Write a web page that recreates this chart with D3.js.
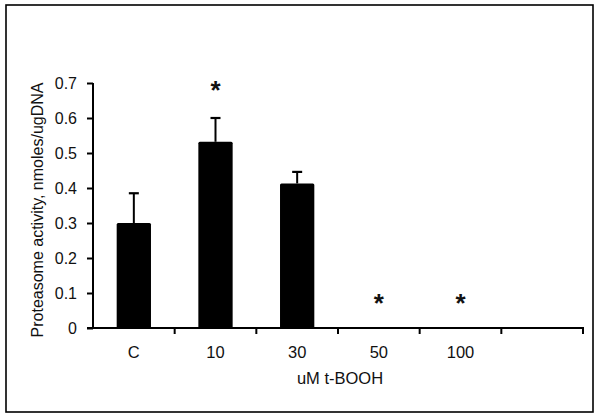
<!DOCTYPE html>
<html>
<head>
<meta charset="utf-8">
<script src="https://cdnjs.cloudflare.com/ajax/libs/d3/7.8.5/d3.min.js"></script>
<style>
  body { margin: 0; background: #fff; }
  svg text { font-family: "Liberation Sans", Arial, sans-serif; fill: #111; }
</style>
</head>
<body>
<svg width="600" height="418"></svg>
<script>
// Data
var categories = ["C", "10", "30", "50", "100", ""];
var means = [0.30, 0.532, 0.413, 0, 0, null];
var errTops = [0.385, 0.60, 0.446, null, null, null];
var starY = [null, 0.697, null, 0.087, 0.087, null];
var yTicks = [0, 0.1, 0.2, 0.3, 0.4, 0.5, 0.6, 0.7];

var svg = d3.select("svg");

// outer frame
svg.append("rect")
  .attr("x", 6).attr("y", 5)
  .attr("width", 587).attr("height", 407)
  .attr("fill", "none").attr("stroke", "#000").attr("stroke-width", 1.6);

var x = d3.scaleBand()
  .domain(categories)
  .range([93, 583])
  .paddingInner(0.58)
  .paddingOuter(0.29);

var y = d3.scaleLinear()
  .domain([0, 0.7])
  .range([328, 83]);

// y axis
var yAxis = d3.axisLeft(y)
  .tickValues(yTicks)
  .tickSize(6)
  .tickPadding(10)
  .tickFormat(function(d) { return d === 0 ? "0" : d3.format(".1f")(d); });
var gy = svg.append("g").attr("transform", "translate(93,0)").call(yAxis);
gy.select(".domain").attr("stroke-width", 2).attr("d", "M0," + y(0.7) + "V" + y(0));
gy.selectAll(".tick line").attr("stroke-width", 2);
gy.selectAll("text").style("font-size", "16px").attr("dy", "0.36em");

// x axis line and boundary ticks
var step = x.step();
var bounds = categories.map(function(c) { return x(c) - (step - x.bandwidth()) / 2; });
bounds.push(x.range()[1]);
svg.append("line")
  .attr("x1", 87).attr("x2", 584)
  .attr("y1", y(0)).attr("y2", y(0))
  .attr("stroke", "#000").attr("stroke-width", 2);
svg.selectAll(".xtick").data(bounds.slice(1)).enter().append("line")
  .attr("class", "xtick")
  .attr("x1", function(d) { return d; }).attr("x2", function(d) { return d; })
  .attr("y1", y(0)).attr("y2", y(0) + 6)
  .attr("stroke", "#000").attr("stroke-width", 2);

// x labels
svg.selectAll(".xlab").data(categories).enter().append("text")
  .attr("class", "xlab")
  .attr("x", function(d) { return x(d) + x.bandwidth() / 2; })
  .attr("y", 358)
  .attr("text-anchor", "middle")
  .style("font-size", "16.5px")
  .text(function(d) { return d; });

// bars
svg.selectAll(".bar").data(categories.filter(function(c, i) { return means[i] > 0; }))
  .enter().append("rect")
  .attr("class", "bar")
  .attr("x", function(d) { return x(d); })
  .attr("width", x.bandwidth())
  .attr("y", function(d) { return y(means[categories.indexOf(d)]); })
  .attr("height", function(d) { return y(0) - y(means[categories.indexOf(d)]); })
  .attr("rx", 1.5)
  .attr("fill", "#000");

// error bars (upper only)
categories.forEach(function(c, i) {
  if (errTops[i] == null) return;
  var cx = x(c) + x.bandwidth() / 2;
  svg.append("line")
    .attr("x1", cx).attr("x2", cx)
    .attr("y1", y(means[i])).attr("y2", y(errTops[i]))
    .attr("stroke", "#000").attr("stroke-width", 2);
  svg.append("line")
    .attr("x1", cx - 5).attr("x2", cx + 5)
    .attr("y1", y(errTops[i])).attr("y2", y(errTops[i]))
    .attr("stroke", "#000").attr("stroke-width", 2.2);
});

// significance stars
categories.forEach(function(c, i) {
  if (starY[i] == null) return;
  svg.append("text")
    .attr("x", x(c) + x.bandwidth() / 2)
    .attr("y", y(starY[i]))
    .attr("dy", "0.56em")
    .attr("text-anchor", "middle")
    .style("font-size", "26px")
    .style("font-weight", "bold")
    .text("*");
});

// axis titles
svg.append("text")
  .attr("x", 340).attr("y", 384)
  .attr("text-anchor", "middle")
  .style("font-size", "16.5px")
  .text("uM t-BOOH");

svg.append("text")
  .attr("transform", "translate(43,210) rotate(-90)")
  .attr("text-anchor", "middle")
  .style("font-size", "16px")
  .text("Proteasome activity, nmoles/ugDNA");
</script>
</body>
</html>
